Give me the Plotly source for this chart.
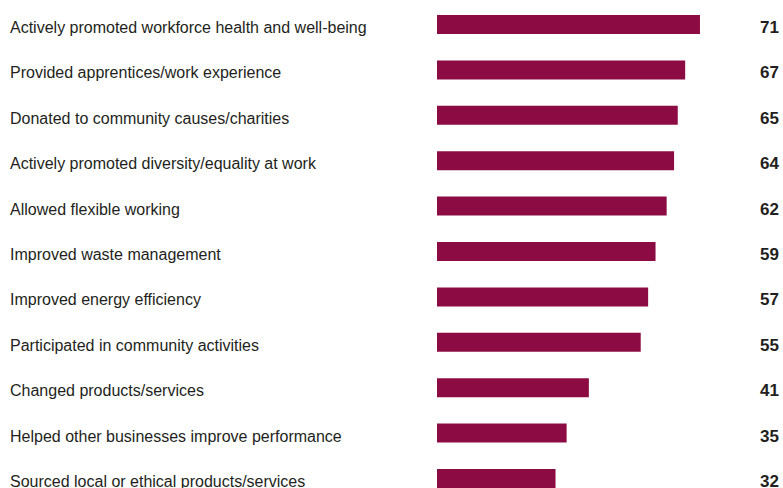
import plotly.graph_objects as go

categories = [
    "Actively promoted workforce health and well-being",
    "Provided apprentices/work experience",
    "Donated to community causes/charities",
    "Actively promoted diversity/equality at work",
    "Allowed flexible working",
    "Improved waste management",
    "Improved energy efficiency",
    "Participated in community activities",
    "Changed products/services",
    "Helped other businesses improve performance",
    "Sourced local or ethical products/services",
]
values = [71, 67, 65, 64, 62, 59, 57, 55, 41, 35, 32]

W, H = 783, 488
bar_left_px = 437
px_per_unit = 3.704
row_px = 45.4
first_center_px = 24.5

x0 = -bar_left_px / px_per_unit
x1 = (W - bar_left_px) / px_per_unit
y0 = -first_center_px / row_px
y1 = H / row_px + y0

FONT = "Liberation Sans Narrow, Arial Narrow, Liberation Sans, sans-serif"
TEXT = "#231f20"

pos = list(range(len(categories)))

fig = go.Figure(go.Bar(
    x=values, y=pos, orientation="h",
    marker=dict(color="#8c0b42", line=dict(width=0)),
    width=19 / row_px,
    hoverinfo="skip",
))

annotations = []
for i, (c, v) in enumerate(zip(categories, values)):
    annotations.append(dict(
        xref="paper", yref="y", x=8 / W, y=i, xanchor="left", yanchor="middle",
        text=c, showarrow=False, yshift=-3,
        font=dict(family=FONT, size=16, color=TEXT),
    ))
    annotations.append(dict(
        xref="paper", yref="y", x=781 / W, y=i, xanchor="right", yanchor="middle",
        text=f"<b>{v}</b>", showarrow=False, yshift=-3,
        font=dict(family=FONT, size=17, color=TEXT),
    ))

fig.update_layout(
    width=W, height=H,
    margin=dict(l=0, r=0, t=0, b=0),
    paper_bgcolor="white", plot_bgcolor="white",
    xaxis=dict(range=[x0, x1], visible=False, fixedrange=True),
    yaxis=dict(range=[y1, y0], visible=False, fixedrange=True),
    showlegend=False,
    annotations=annotations,
)

fig.write_html("out.html")
